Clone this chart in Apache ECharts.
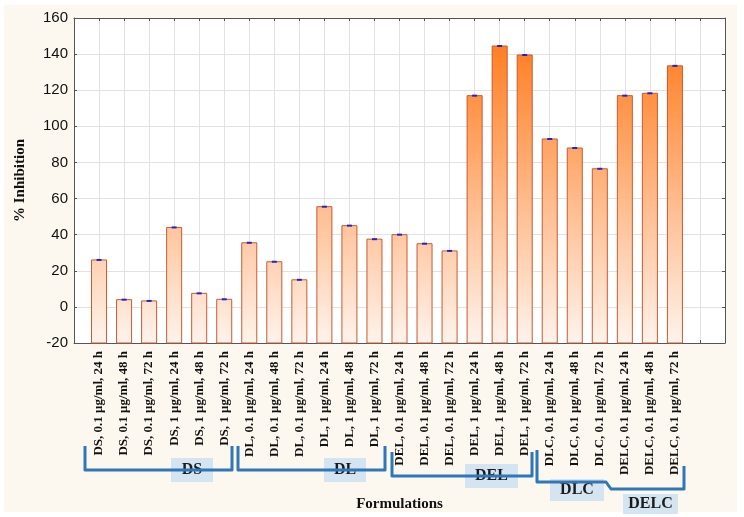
<!DOCTYPE html>
<html>
<head>
<meta charset="utf-8">
<script src="https://cdn.jsdelivr.net/npm/echarts@6/dist/echarts.min.js"></script>
<style>
  html, body { margin: 0; padding: 0; background: #fff; }
  #chart { width: 744px; height: 517px; }
</style>
</head>
<body>
<div id="chart"></div>
<script>
// bar labels along the x axis
const labels = [
  'DS, 0.1 μg/ml, 24 h', 'DS, 0.1 μg/ml, 48 h', 'DS, 0.1 μg/ml, 72 h',
  'DS, 1 μg/ml, 24 h', 'DS, 1 μg/ml, 48 h', 'DS, 1 μg/ml, 72 h',
  'DL, 0.1 μg/ml, 24 h', 'DL, 0.1 μg/ml, 48 h', 'DL, 0.1 μg/ml, 72 h',
  'DL, 1 μg/ml, 24 h', 'DL, 1 μg/ml, 48 h', 'DL, 1 μg/ml, 72 h',
  'DEL, 0.1 μg/ml, 24 h', 'DEL, 0.1 μg/ml, 48 h', 'DEL, 0.1 μg/ml, 72 h',
  'DEL, 1 μg/ml, 24 h', 'DEL, 1 μg/ml, 48 h', 'DEL, 1 μg/ml, 72 h',
  'DLC, 0.1 μg/ml, 24 h', 'DLC, 0.1 μg/ml, 48 h', 'DLC, 0.1 μg/ml, 72 h',
  'DELC, 0.1 μg/ml, 24 h', 'DELC, 0.1 μg/ml, 48 h', 'DELC, 0.1 μg/ml, 72 h'
];
// % inhibition
const inhibition = [
  26, 4, 3.3, 44, 7.5, 4.2,
  35.5, 25, 15, 55.5, 45, 37.5,
  40, 35, 31, 117, 144.5, 139.5,
  93, 88, 76.5,
  117, 118.3, 133.5
];
const yTicks = { min: -20, max: 160, step: 20 };
const groups = ['DS', 'DL', 'DEL', 'DLC', 'DELC'];

const serif = '"Liberation Serif", "Times New Roman", serif';
const sans = '"Liberation Sans", Arial, sans-serif';
const bracketColor = '#2f77b8';
const boxFill = '#d5e4f1';
const axisColor = '#555';

const chart = echarts.init(document.getElementById('chart'));

function renderBar(params, api) {
  const i = api.value(0);
  const v = api.value(1);
  const top = api.coord([i, v]);
  const base = api.coord([i, yTicks.min]);
  const plotTop = api.coord([i, yTicks.max])[1];
  const w = api.size([1, 0])[0] * 0.6;
  return {
    type: 'group',
    children: [
      {
        type: 'rect',
        shape: { x: top[0] - w / 2, y: top[1], width: w, height: base[1] - top[1] },
        style: {
          fill: {
            type: 'linear', global: true,
            x: 0, y: plotTop, x2: 0, y2: base[1],
            colorStops: [
              { offset: 0, color: '#ff7410' },
              { offset: 0.45, color: '#ffac72' },
              { offset: 1, color: '#fff3ec' }
            ]
          },
          stroke: '#c85a32',
          lineWidth: 1
        }
      },
      {
        type: 'line',
        shape: { x1: top[0] - 2.5, y1: top[1], x2: top[0] + 2.5, y2: top[1] },
        style: { stroke: '#2222c8', lineWidth: 2 }
      }
    ]
  };
}

function bracket(points) {
  return {
    type: 'polyline',
    shape: { points: points },
    style: { stroke: bracketColor, lineWidth: 3, fill: null, lineJoin: 'round' },
    z: 5
  };
}

function box(x, y, w, h, text) {
  return {
    type: 'group',
    z: 6,
    children: [
      { type: 'rect', shape: { x: x, y: y, width: w, height: h }, style: { fill: boxFill } },
      {
        type: 'text',
        x: x + w / 2, y: y + h / 2,
        style: {
          text: text, fill: '#1a1a1a', font: 'bold 16px ' + serif,
          align: 'center', verticalAlign: 'middle'
        }
      }
    ]
  };
}

function frameAxis(extra) {
  return Object.assign({
    type: 'value',
    axisLine: { show: true, onZero: false, lineStyle: { color: axisColor } },
    axisTick: { show: true, inside: true, length: 3, lineStyle: { color: axisColor } },
    splitLine: { show: false },
    axisLabel: { show: false }
  }, extra);
}

const option = {
  backgroundColor: '#ffffff',
  animation: false,
  grid: {
    left: 74, top: 18, right: 19, bottom: 172,
    show: true, backgroundColor: '#ffffff', borderWidth: 0
  },
  xAxis: [
    frameAxis({
      min: 0, max: labels.length + 2, interval: 1,
      splitLine: { show: true, lineStyle: { color: '#e2e2e6' } },
      axisLabel: {
        rotate: 90, margin: 8,
        fontFamily: serif, fontWeight: 'bold', fontSize: 13, color: '#111',
        formatter: v => labels[v - 1] || ''
      },
      name: 'Formulations',
      nameLocation: 'middle',
      nameGap: 154,
      nameTextStyle: { fontFamily: serif, fontWeight: 'bold', fontSize: 15, color: '#111' }
    }),
    frameAxis({ position: 'top', min: 0, max: labels.length + 2, interval: 1 })
  ],
  yAxis: [
    frameAxis({
      min: yTicks.min, max: yTicks.max, interval: yTicks.step,
      splitLine: { show: true, lineStyle: { color: '#e2e2e6' } },
      axisLabel: { fontFamily: sans, fontSize: 15, color: '#111', margin: 6 },
      name: '% Inhibition',
      nameLocation: 'middle',
      nameGap: 46,
      nameTextStyle: { fontFamily: serif, fontWeight: 'bold', fontSize: 15, color: '#111' }
    }),
    frameAxis({ position: 'right', min: yTicks.min, max: yTicks.max, interval: yTicks.step })
  ],
  series: [
    {
      type: 'custom',
      xAxisIndex: 0,
      yAxisIndex: 0,
      renderItem: renderBar,
      encode: { x: 0, y: 1 },
      data: labels.map((_, i) => [i + 1, inhibition[i]]),
      z: 3
    }
  ],
  graphic: [
    { type: 'rect', z: -10, silent: true, shape: { x: 4, y: 5, width: 733, height: 507 }, style: { fill: '#fdf8ef' } },
    bracket([[85, 446], [85, 470], [232, 470], [232, 446]]),
    bracket([[238, 446], [238, 470], [385, 470], [385, 446]]),
    bracket([[392, 452], [392, 476], [532, 476], [532, 452]]),
    bracket([[537, 450], [537, 482], [606, 482], [611, 489], [684, 489], [684, 466]]),
    box(171, 458, 42, 24, groups[0]),
    box(324, 458, 42, 24, groups[1]),
    box(465, 464, 53, 24, groups[2]),
    box(550, 479, 54, 22, groups[3]),
    box(623, 494, 55, 20, groups[4])
  ]
};

chart.setOption(option);
</script>
</body>
</html>
